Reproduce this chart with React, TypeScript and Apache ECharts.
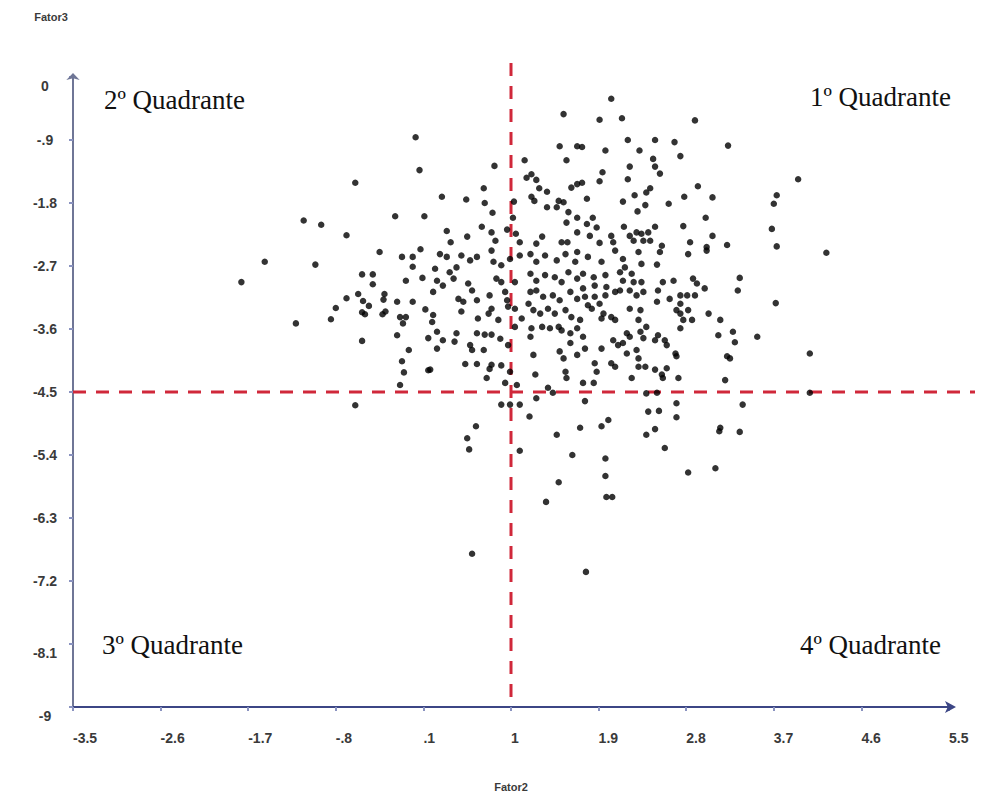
import React, { useEffect, useRef } from "react";
import * as echarts from "echarts";

const xTickLabels = ["-3.5", "-2.6", "-1.7", "-.8", ".1", "1", "1.9", "2.8", "3.7", "4.6", "5.5"];
const yTickLabels = ["-9", "-8.1", "-7.2", "-6.3", "-5.4", "-4.5", "-3.6", "-2.7", "-1.8", "-.9", "0"];
// tick labels that sit a little below their tick in the original
const yLoweredLabels = ["-9", "-8.1", "0"];
const X_MIN = -3.5;
const X_MAX = 5.5;
const Y_MIN = -9;
const Y_MAX = 0;
const STEP = 0.9;
const xCut = 1;
const yCut = -4.5;
const quadrantLabels = ["1º Quadrante", "2º Quadrante", "3º Quadrante", "4º Quadrante"];

// [Fator2, Fator3]
const scores: [number, number][] = [
  [0.02,-0.86],[0.06,-1.33],[-0.60,-1.51],[-1.13,-2.05],[-0.95,-2.11],[-0.19,-1.99],[0.11,-1.99],[-0.69,-2.26],[-0.35,-2.50],[0.07,-2.46],
  [-0.12,-2.57],[-0.01,-2.57],[-0.01,-2.71],[-1.53,-2.64],[-1.01,-2.68],[-0.53,-2.82],[-0.42,-2.82],[-0.42,-2.96],[-0.08,-2.91],[0.09,-2.87],
  [-1.77,-2.93],[-0.69,-3.16],[-0.57,-3.10],[-0.52,-3.20],[-0.46,-3.27],[-0.30,-3.10],[-0.31,-3.18],[-0.17,-3.21],[-0.01,-3.21],[0.12,-3.32],
  [-0.80,-3.30],[-0.85,-3.46],[-0.53,-3.36],[-0.50,-3.39],[-0.32,-3.39],[-0.29,-3.35],[-0.14,-3.43],[-0.08,-3.43],[-0.11,-3.52],[-1.21,-3.52],
  [-0.17,-3.69],[0.15,-3.73],[-0.53,-3.77],[-0.05,-3.90],[-0.12,-4.06],[-0.10,-4.22],[0.15,-4.19],[-0.14,-4.40],[-0.60,-4.69],
  [1.54,-0.53],[1.50,-0.99],[1.68,-0.99],[1.57,-1.19],[1.14,-1.19],[0.83,-1.27],[1.16,-1.44],[1.21,-1.39],[1.26,-1.47],[1.62,-1.58],
  [1.68,-1.53],[1.29,-1.59],[1.37,-1.64],[0.29,-1.71],[0.54,-1.75],[0.72,-1.59],[0.73,-1.80],[1.21,-1.71],[1.24,-1.77],[1.03,-1.78],
  [1.49,-1.77],[1.54,-1.79],[1.37,-1.86],[1.47,-1.86],[1.59,-1.93],[1.68,-2.01],[0.81,-1.94],[1.02,-2.01],[1.57,-2.08],[0.70,-2.14],
  [0.80,-2.22],[0.96,-2.18],[1.05,-2.24],[0.34,-2.20],[0.55,-2.28],[0.38,-2.36],[0.84,-2.34],[1.09,-2.36],[1.32,-2.28],[1.26,-2.38],
  [1.52,-2.36],[1.58,-2.36],[1.68,-2.22],
  [2.03,-0.31],[1.91,-0.61],[2.14,-0.59],[2.89,-0.62],[2.20,-0.90],[2.48,-0.90],[2.68,-0.93],[3.23,-0.98],[1.73,-1.00],[1.97,-1.05],
  [2.32,-1.05],[2.46,-1.17],[2.74,-1.13],[2.22,-1.28],[2.48,-1.28],[2.53,-1.38],[1.94,-1.36],[1.91,-1.49],[2.20,-1.46],[1.73,-1.51],
  [2.43,-1.59],[2.39,-1.65],[2.27,-1.69],[2.92,-1.56],[2.78,-1.71],[3.07,-1.72],[1.78,-1.74],[2.15,-1.78],[2.62,-1.81],[2.38,-1.83],
  [2.30,-1.92],[1.84,-2.01],[3.00,-2.01],[1.78,-2.10],[1.88,-2.15],[2.16,-2.14],[2.48,-2.14],[2.77,-2.13],[3.07,-2.27],[1.81,-2.27],
  [2.03,-2.27],[2.22,-2.27],[2.29,-2.22],[2.34,-2.24],[2.41,-2.22],[2.26,-2.34],[2.36,-2.34],[2.05,-2.36],[2.43,-2.34],[1.91,-2.37],
  [2.55,-2.41],[2.84,-2.36],[3.01,-2.43],[3.22,-2.40],
  [3.95,-1.46],[3.73,-1.69],[3.70,-1.81],[3.68,-2.17],[3.73,-2.42],[4.24,-2.51],[3.35,-2.87],[3.33,-3.05],[3.72,-3.23],[3.28,-3.64],
  [3.30,-3.79],[3.53,-3.71],[4.07,-3.95],[3.25,-4.02],[4.07,-4.51],[3.38,-4.68],
  [0.64,-4.99],[0.55,-5.16],[0.57,-5.32],[1.19,-4.85],[1.09,-5.34],[1.47,-5.11],[1.71,-5.01],[1.93,-4.99],[2.00,-4.90],[1.63,-5.40],
  [1.97,-5.45],[1.97,-5.70],[1.98,-6.00],[2.04,-6.00],[1.49,-5.79],[1.36,-6.07],[2.41,-4.78],[2.52,-4.77],[2.70,-4.86],[2.48,-5.03],
  [2.39,-5.11],[2.58,-5.30],[2.82,-5.65],[3.10,-5.59],[3.15,-5.01],[3.14,-5.06],[3.35,-5.07],[0.60,-6.81],[1.77,-7.07],
  [0.27,-2.53],[0.34,-2.57],[0.49,-2.55],[0.58,-2.62],[0.65,-2.57],[0.80,-2.48],[0.82,-2.64],[0.90,-2.69],[0.99,-2.60],[1.09,-2.55],
  [1.20,-2.53],[1.26,-2.64],[1.35,-2.55],[1.47,-2.62],[1.56,-2.53],[1.66,-2.64],[1.68,-2.50],[0.22,-2.74],[0.37,-2.79],[0.44,-2.72],
  [0.24,-2.91],[0.41,-2.88],[0.85,-2.88],[0.90,-2.93],[1.04,-2.93],[1.20,-2.81],[1.26,-2.91],[1.35,-2.83],[1.45,-2.86],[1.52,-2.93],
  [1.59,-2.79],[1.68,-2.88],[0.20,-3.07],[0.30,-2.98],[0.56,-2.95],[0.60,-3.05],[0.46,-3.17],[0.51,-3.21],[0.65,-3.19],[0.78,-3.12],
  [0.94,-3.07],[0.96,-3.19],[1.20,-3.07],[1.26,-3.05],[1.33,-3.14],[1.43,-3.12],[1.50,-3.19],[1.61,-3.07],[1.68,-3.17],[0.49,-3.35],
  [0.80,-3.31],[0.77,-3.38],[0.97,-3.28],[1.04,-3.31],[1.18,-3.24],[1.23,-3.33],[1.30,-3.38],[1.38,-3.31],[1.45,-3.38],[1.56,-3.33],
  [1.62,-3.43],[0.66,-3.45],[0.87,-3.47],[1.11,-3.45],[0.20,-3.40],[0.24,-3.64],[0.19,-3.50],[0.30,-3.76],[0.44,-3.66],[0.42,-3.78],
  [0.65,-3.66],[0.73,-3.68],[0.80,-3.68],[0.89,-3.74],[1.04,-3.57],[1.20,-3.71],[1.21,-3.59],[1.32,-3.57],[1.40,-3.59],[1.49,-3.57],
  [1.52,-3.62],[1.61,-3.66],[1.68,-3.59],[1.61,-3.80],[0.24,-3.88],[0.58,-3.83],[0.60,-3.90],[0.72,-3.90],[0.97,-3.83],[1.23,-3.97],
  [1.50,-3.92],[1.54,-4.02],[1.68,-3.97],[0.53,-4.10],[0.65,-4.10],[0.80,-4.11],[0.78,-4.17],[0.90,-4.12],[0.99,-4.21],[0.75,-4.30],
  [1.25,-4.25],[1.56,-4.21],[1.57,-4.30],[0.17,-4.18],[1.06,-4.40],[0.94,-4.37],[1.38,-4.44],[1.43,-4.51],[1.26,-4.59],[0.90,-4.68],
  [0.99,-4.68],[1.09,-4.68],
  [1.79,-2.57],[1.93,-2.64],[2.07,-2.48],[2.15,-2.60],[2.17,-2.72],[2.31,-2.50],[2.34,-2.67],[2.53,-2.50],[2.50,-2.68],[2.82,-2.53],
  [3.01,-2.48],[1.74,-2.81],[1.85,-2.86],[1.97,-2.83],[2.12,-2.79],[2.24,-2.81],[2.15,-2.91],[2.26,-2.93],[2.34,-2.93],[2.56,-2.93],
  [2.67,-2.91],[2.87,-2.88],[2.91,-2.95],[2.99,-3.02],[1.74,-3.02],[1.86,-2.98],[1.98,-3.00],[2.12,-3.05],[1.76,-3.14],[1.86,-3.14],
  [1.97,-3.12],[2.07,-3.07],[2.22,-3.05],[2.29,-3.12],[2.36,-3.07],[2.51,-3.05],[2.63,-3.17],[2.74,-3.12],[2.81,-3.12],[2.89,-3.12],
  [2.50,-3.21],[2.74,-3.24],[1.79,-3.26],[1.91,-3.24],[2.22,-3.31],[2.33,-3.33],[1.83,-3.31],[1.95,-3.38],[2.03,-3.43],[2.07,-3.47],
  [2.31,-3.47],[2.39,-3.57],[2.70,-3.33],[2.82,-3.33],[2.74,-3.38],[3.03,-3.38],[2.77,-3.47],[2.86,-3.47],[3.15,-3.47],[2.74,-3.59],
  [1.71,-3.47],[1.93,-3.45],[2.19,-3.66],[2.22,-3.71],[2.33,-3.64],[2.36,-3.73],[2.05,-3.76],[2.10,-3.83],[2.15,-3.80],[2.51,-3.69],
  [2.48,-3.76],[2.58,-3.76],[2.60,-3.83],[3.13,-3.69],[1.74,-3.71],[1.76,-3.88],[1.93,-3.88],[2.19,-3.95],[2.29,-3.90],[2.31,-4.02],
  [2.69,-3.95],[2.70,-3.99],[2.03,-4.09],[2.07,-4.14],[1.86,-4.09],[2.31,-4.14],[2.38,-4.14],[3.22,-3.99],[1.88,-4.21],[2.48,-4.18],
  [2.60,-4.16],[2.55,-4.25],[2.24,-4.30],[2.56,-4.30],[2.72,-4.30],[1.74,-4.37],[1.85,-4.37],[3.20,-4.33],[2.39,-4.52],[2.50,-4.51],
  [1.76,-4.63],[2.70,-4.66],
];

const AXIS_COLOR = "#3c4685";
const TICK_COLOR = "#8a93c0";
const LABEL_COLOR = "#3a3a3a";
const CUT_COLOR = "#d0283a";
const SANS = "'Liberation Sans', Arial, sans-serif";
const SERIF = "'Liberation Serif', 'Times New Roman', serif";

const labelText = (labels: string[], min: number, v: number) => {
  const i = Math.round((v - min) / STEP);
  return labels[i] ?? "";
};

export default function App() {
  const ref = useRef<HTMLDivElement>(null);

  useEffect(() => {
    if (!ref.current) return;
    const chart = echarts.init(ref.current, undefined, { renderer: "svg" });
    const tickFont = {
      fontFamily: SANS,
      fontWeight: "bold" as const,
      fontSize: 14,
      color: LABEL_COLOR,
    };
    chart.setOption({
      animation: false,
      backgroundColor: "#ffffff",
      grid: { left: 73, right: 33, top: 77, bottom: 86 },
      xAxis: {
        type: "value",
        min: X_MIN,
        max: X_MAX,
        interval: STEP,
        name: "Fator2",
        nameLocation: "middle",
        nameGap: 74,
        nameTextStyle: { fontFamily: SANS, fontWeight: "bold", fontSize: 11, color: LABEL_COLOR },
        axisLine: {
          show: true,
          onZero: false,
          lineStyle: { color: AXIS_COLOR, width: 2 },
          symbol: ["none", "arrow"],
          symbolSize: [9, 11],
          symbolOffset: [0, 7],
        },
        axisTick: { show: true, length: 4, lineStyle: { color: TICK_COLOR, width: 2 } },
        splitLine: { show: false },
        axisLabel: {
          align: "left",
          margin: 24,
          ...tickFont,
          formatter: (v: number) => labelText(xTickLabels, X_MIN, v),
        },
      },
      yAxis: {
        type: "value",
        min: Y_MIN,
        max: Y_MAX,
        interval: STEP,
        name: "Fator3",
        nameLocation: "end",
        nameGap: 55,
        nameTextStyle: {
          fontFamily: SANS,
          fontWeight: "bold",
          fontSize: 11,
          color: LABEL_COLOR,
          align: "center",
          padding: [0, 44, 0, 0],
        },
        axisLine: {
          show: true,
          onZero: false,
          lineStyle: { color: "#6f7696", width: 2 },
          symbol: ["none", "arrow"],
          symbolSize: [10, 7],
          symbolOffset: [0, 4],
        },
        axisTick: { show: true, length: 4, lineStyle: { color: TICK_COLOR, width: 2 } },
        splitLine: { show: false },
        axisLabel: {
          align: "center",
          margin: 28,
          ...tickFont,
          formatter: (v: number) => {
            const t = labelText(yTickLabels, Y_MIN, v);
            return yLoweredLabels.includes(t) ? `{low|${t}}` : t;
          },
          rich: {
            low: { ...tickFont, padding: [18, 0, 0, 0] },
          },
        },
      },
      series: [
        {
          type: "scatter",
          data: scores,
          symbol: "circle",
          symbolSize: 6.5,
          z: 3,
          itemStyle: { color: "#000000" },
        },
      ],
    });

    const finder = { xAxisIndex: 0, yAxisIndex: 0 };
    const [cx, yTop] = chart.convertToPixel(finder, [xCut, Y_MAX]) as number[];
    const [xLeft, cy] = chart.convertToPixel(finder, [X_MIN, yCut]) as number[];
    const [xRight, yBottom] = chart.convertToPixel(finder, [X_MAX, Y_MIN]) as number[];
    const dashStyle = { stroke: CUT_COLOR, lineWidth: 3, lineDash: [13, 10] };
    const qStyle = { fill: "#111", font: `27px ${SERIF}`, textVerticalAlign: "middle" };

    chart.setOption({
      graphic: [
        { type: "line", z: 1, shape: { x1: cx, y1: yTop - 14, x2: cx, y2: yBottom }, style: dashStyle },
        { type: "line", z: 1, shape: { x1: xLeft, y1: cy, x2: xRight + 26, y2: cy }, style: dashStyle },
        { type: "text", x: 810, y: 97, z: 5, style: { ...qStyle, text: quadrantLabels[0] } },
        { type: "text", x: 104, y: 100, z: 5, style: { ...qStyle, text: quadrantLabels[1] } },
        { type: "text", x: 102, y: 645, z: 5, style: { ...qStyle, text: quadrantLabels[2] } },
        { type: "text", x: 800, y: 645, z: 5, style: { ...qStyle, text: quadrantLabels[3] } },
      ],
    });

    return () => chart.dispose();
  }, []);

  return (
    <div
      ref={ref}
      style={{ position: "absolute", left: 0, top: 0, width: 982, height: 797 }}
    />
  );
}
